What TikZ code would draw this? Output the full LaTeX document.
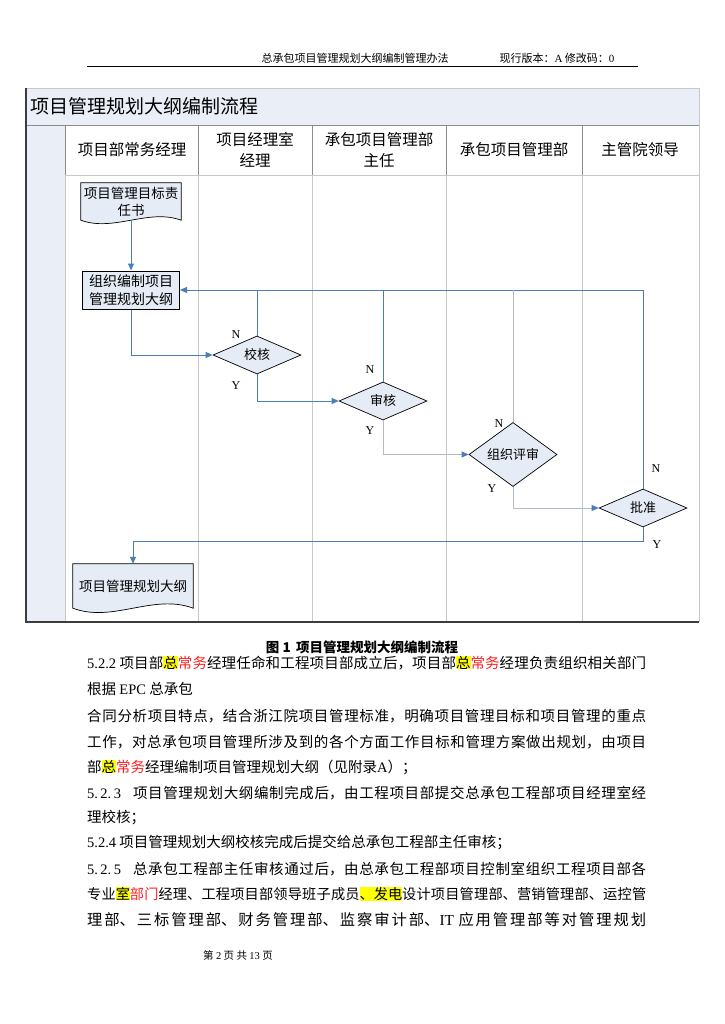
\documentclass[tikz,border=0pt]{standalone}
\usepackage{fontspec}
\setmainfont{Noto Sans CJK SC}
\newfontfamily\lat{Liberation Serif}
\usetikzlibrary{shapes.geometric,arrows.meta}
\pgfdeclarelayer{bg}
\pgfsetlayers{bg,main}
\XeTeXlinebreaklocale "zh"
\XeTeXlinebreakskip=0pt plus 3pt minus 0.6pt
\definecolor{flowblue}{HTML}{4A7EBB}
\definecolor{flowgray}{HTML}{B4BAC8}
\definecolor{bandfill}{HTML}{E9EEF7}
\definecolor{shapefill}{HTML}{E6ECF6}
\definecolor{gridgray}{HTML}{C8C8C8}
\definecolor{framegray}{HTML}{3C3C3C}
\definecolor{hdrgray}{HTML}{8C8C8C}
\definecolor{hlyellow}{HTML}{FFFF00}
\definecolor{txtred}{HTML}{FF2020}
\newcommand\hly[1]{{\setlength\fboxsep{0pt}\colorbox{hlyellow}{#1}}}
\newcommand\rd[1]{\textcolor{txtred}{#1}}
\newcommand\jtext[1]{\parfillskip=0pt\relax #1\par}
\newcommand\docpath[3]{\draw[docshape] (#1.north west) -- (#1.north east) -- (#1.south east) .. controls +(-#2,-#3) and +(#2,#3) .. (#1.south west) -- cycle;}
\tikzset{
  tipb/.style={-{Triangle[length=7pt,width=6pt,color=flowblue]}},
  flowline/.style={draw=flowblue, line width=1pt},
  flowarr/.style={flowline, tipb},
  gline/.style={draw=flowgray, line width=0.8pt},
  garr/.style={gline, tipb},
  decision/.style={diamond, draw=black, fill=shapefill, line width=0.7pt, minimum width=88pt, minimum height=38pt, inner sep=0pt, font=\fontsize{13}{15}\selectfont},
  procbox/.style={rectangle, draw=black, fill=shapefill, line width=1pt, minimum width=97pt, minimum height=38pt, inner sep=1pt, align=center, font=\fontsize{14}{18}\selectfont},
  docbox/.style={inner sep=0pt, align=center, font=\fontsize{13.5}{17}\selectfont},
  docshape/.style={draw=black, fill=shapefill, line width=0.7pt},
  lanelbl/.style={align=center, inner sep=0pt, font=\fontsize{15.5}{21}\selectfont},
  yn/.style={inner sep=0pt, font=\lat\fontsize{12}{14}\selectfont},
  jline/.style={anchor=west, inner sep=0pt, text width=559pt, align=justify, font=\fontsize{14.5}{16}\selectfont},
  pline/.style={anchor=west, inner sep=0pt, font=\fontsize{14.5}{16}\selectfont},
}
\begin{document}
\begin{tikzpicture}[x=1pt,y=-1pt]
\begin{pgfonlayer}{bg}
\fill[white] (0,0) rectangle (724,1024);
\end{pgfonlayer}
\useasboundingbox (0,0) rectangle (724,1024);

% page header
\node[inner sep=0pt, font=\fontsize{11}{13}\selectfont] (hdrA) at (355,58) {总承包项目管理规划大纲编制管理办法};
\node[inner sep=0pt, font=\fontsize{11}{13}\selectfont] (hdrB) at (557,58) {现行版本：{\lat A}\ 修改码：{\lat 0}};
\draw[line width=1pt] (87,67) -- (638,67);

% frame
\fill[bandfill] (26,88) rectangle (699,125);
\fill[bandfill] (26,125) rectangle (65,622);
\draw[gridgray, line width=0.8pt] (26,88) -- (699,88) -- (699,622);
\draw[hdrgray, line width=0.8pt] (26,125) -- (699,125);
\draw[gridgray, line width=0.8pt] (65,175) -- (699,175);
\foreach \xx in {65,198,312,446,582} {
  \draw[hdrgray, line width=0.8pt] (\xx,125) -- (\xx,175);
  \draw[gridgray, line width=0.8pt] (\xx,175) -- (\xx,622);
}
\draw[framegray, line width=1.2pt] (26,88) -- (26,622) -- (699,622);

\node[anchor=west, inner sep=0pt, font=\fontsize{19}{22}\selectfont] (ttl) at (30,106) {项目管理规划大纲编制流程};

\node[lanelbl] (L1) at (132,150) {项目部常务经理};
\node[lanelbl] (L2) at (255,150) {项目经理室\\经理};
\node[lanelbl] (L3) at (379,150) {承包项目管理部\\主任};
\node[lanelbl] (L4) at (514,150) {承包项目管理部};
\node[lanelbl] (L5) at (640,150) {主管院领导};

% shapes
\node[docbox, minimum width=100pt, minimum height=37pt] (d1) at (131,201.5) {项目管理目标责\\任书};
\node[procbox] (b1) at (131,290) {组织编制项目\\管理规划大纲};
\node[decision] (jh) at (257,355) {校核};
\node[decision] (sh) at (383,401) {审核};
\node[decision] (ps) at (513,454.5) {组织评审};
\node[decision] (pz) at (643,508) {批准};
\node[docbox, minimum width=120pt, minimum height=44pt] (d2) at (133,586) {项目管理规划大纲};
\begin{pgfonlayer}{bg}
\docpath{d1}{33}{12}
\docpath{d2}{40}{15}
\end{pgfonlayer}
\coordinate (pzy) at (643,541);

% connectors
\draw[flowarr] (d1.south) -- (b1.north);
\draw[flowarr] (b1.south) |- (jh.west);
\draw[flowarr] (jh.south) |- (sh.west);
\draw[garr] (sh.south) |- (ps.west);
\draw[garr] (ps.south) |- (pz.west);
\draw[flowarr] (pz.north) |- (b1.east);
\draw[flowline] (jh.north) -- (jh.north |- b1.east);
\draw[flowline] (sh.north) -- (sh.north |- b1.east);
\draw[gline] (ps.north) -- (ps.north |- b1.east);
\draw[flowarr] (pz.south) -- (pzy) -| (d2.north);

% Y/N labels
\node[yn] (n1) at (236,335) {N};
\node[yn] (y1) at (236,386) {Y};
\node[yn] (n2) at (370,370) {N};
\node[yn] (y2) at (370,431) {Y};
\node[yn] (n3) at (499,424) {N};
\node[yn] (y3) at (492,489) {Y};
\node[yn] (n4) at (656,469) {N};
\node[yn] (y4) at (657,545) {Y};

% caption
\node[inner sep=0pt, font=\bfseries\fontsize{13.5}{16}\selectfont] (cap) at (362,647) {图 1\, 项目管理规划大纲编制流程};

% body text
\node[jline] (t1) at (87,663) {\jtext{{\lat 5.2.2} 项目部\hly{总}\rd{常务}经理任命和工程项目部成立后，项目部\hly{总}\rd{常务}经理负责组织相关部门}};
\node[pline] (t2) at (87,689) {根据 {\lat EPC} 总承包};
\node[jline] (t3) at (87,716) {\jtext{合同分析项目特点，结合浙江院项目管理标准，明确项目管理目标和项目管理的重点}};
\node[jline] (t4) at (87,742) {\jtext{工作，对总承包项目管理所涉及到的各个方面工作目标和管理方案做出规划，由项目}};
\node[pline] (t5) at (87,767) {部\hly{总}\rd{常务}经理编制项目管理规划大纲（见附录{\lat A}）；};
\node[jline] (t6) at (87,793) {\jtext{{\lat 5.\,2.\,3}\hspace{12pt}项目管理规划大纲编制完成后，由工程项目部提交总承包工程部项目经理室经}};
\node[pline] (t7) at (87,818) {理校核；};
\node[pline] (t8) at (87,843) {{\lat 5.2.4} 项目管理规划大纲校核完成后提交给总承包工程部主任审核；};
\node[jline] (t9) at (87,869) {\jtext{{\lat 5.\,2.\,5}\hspace{12pt}总承包工程部主任审核通过后，由总承包工程部项目控制室组织工程项目部各}};
\node[jline, font=\fontsize{14.2}{16}\selectfont] (t10) at (87,894) {\jtext{专业\hly{室}\rd{部门}经理、工程项目部领导班子成员\hly{、发电}设计项目管理部、营销管理部、运控管}};
\node[jline, font=\fontsize{15.3}{17}\selectfont] (t11) at (87,920) {\jtext{理部、三标管理部、财务管理部、监察审计部、{\lat IT} 应用管理部等对管理规划}};

% footer
\node[inner sep=0pt, font=\fontsize{10.5}{12}\selectfont] (ft) at (238,955) {第 {\lat 2} 页 共 {\lat 13} 页};
\end{tikzpicture}
\end{document}
